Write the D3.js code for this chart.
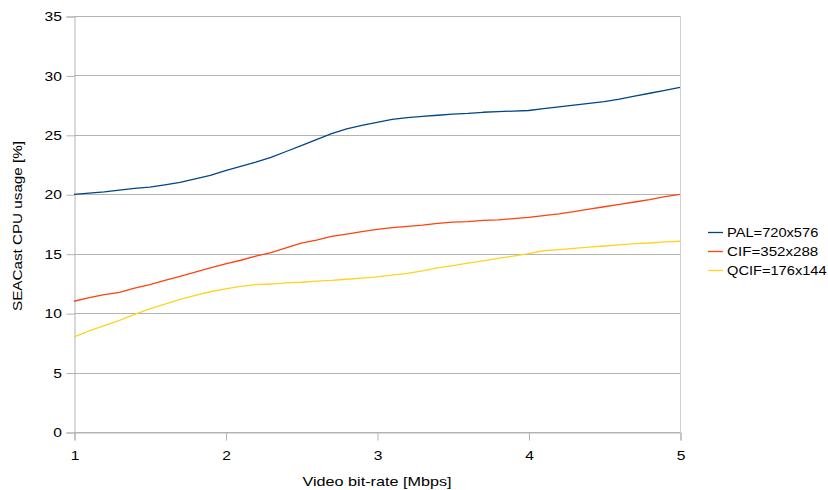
<!DOCTYPE html>
<html>
<head>
<meta charset="utf-8">
<script src="https://cdn.jsdelivr.net/npm/d3@7"></script>
<style>
  html, body { margin: 0; padding: 0; background: #fff; }
  svg text { font-family: "Liberation Sans", Arial, sans-serif; fill: #000; }
</style>
</head>
<body>
<svg id="chart" width="828" height="490"></svg>
<script>
// Video bit-rate sample points [Mbps]
const bitrates = [1.0,1.1,1.2,1.3,1.4,1.5,1.6,1.7,1.8,1.9,2.0,2.1,2.2,2.3,2.4,2.5,2.6,2.7,2.8,2.9,3.0,
                  3.1,3.2,3.3,3.4,3.5,3.6,3.7,3.8,3.9,4.0,4.1,4.2,4.3,4.4,4.5,4.6,4.7,4.8,4.9,5.0];

// SEACast CPU usage [%] per resolution
const palValues = [20.0,20.1,20.2,20.35,20.5,20.6,20.8,21.0,21.3,21.6,22.0,22.35,22.7,23.1,23.6,24.1,24.6,25.1,25.5,25.8,26.05,
                   26.3,26.45,26.55,26.65,26.75,26.8,26.9,26.95,27.0,27.05,27.2,27.35,27.5,27.65,27.8,28.0,28.25,28.5,28.75,29.0];
const cifValues = [11.0,11.3,11.55,11.75,12.1,12.4,12.75,13.1,13.45,13.8,14.15,14.45,14.8,15.1,15.5,15.9,16.15,16.45,16.65,16.85,17.05,
                   17.2,17.3,17.4,17.55,17.65,17.7,17.8,17.85,17.95,18.05,18.2,18.35,18.55,18.75,18.95,19.15,19.35,19.55,19.8,20.0];
const qcifValues = [8.0,8.5,8.95,9.4,9.9,10.35,10.75,11.15,11.5,11.8,12.05,12.25,12.4,12.45,12.55,12.6,12.7,12.75,12.85,12.95,13.05,
                    13.2,13.35,13.55,13.8,14.0,14.2,14.4,14.6,14.8,15.0,15.25,15.35,15.45,15.55,15.65,15.75,15.85,15.9,16.0,16.05];

const seriesNames = ["PAL=720x576", "CIF=352x288", "QCIF=176x144"];
const seriesColors = ["#004586", "#ff420e", "#ffd320"];
const xTicks = [1, 2, 3, 4, 5];
const yTicks = [0, 5, 10, 15, 20, 25, 30, 35];

const series = [palValues, cifValues, qcifValues].map((vals, i) => ({
  name: seriesNames[i],
  color: seriesColors[i],
  points: bitrates.map((b, j) => [b, vals[j]])
}));

const svg = d3.select("#chart");
const plot = { left: 74, right: 680, top: 16, bottom: 432 };

const x = d3.scaleLinear().domain([1, 5]).range([plot.left, plot.right]);
const y = d3.scaleLinear().domain([0, 35]).range([plot.bottom, plot.top]);

const gridColor = "#b3b3b3";
const stretch = "scale(1.2,1)";

// Horizontal gridlines
svg.append("g")
  .selectAll("line")
  .data(yTicks)
  .join("line")
  .attr("x1", plot.left).attr("x2", plot.right)
  .attr("y1", d => Math.round(y(d)) + 0.5).attr("y2", d => Math.round(y(d)) + 0.5)
  .attr("stroke", gridColor).attr("stroke-width", 1);

// Right border of the plot area
svg.append("line")
  .attr("x1", plot.right + 0.5).attr("x2", plot.right + 0.5)
  .attr("y1", plot.top).attr("y2", plot.bottom)
  .attr("stroke", "#d0d0d0").attr("stroke-width", 1);

// Y axis
const yAxis = svg.append("g")
  .attr("transform", `translate(${plot.left + 0.5},0.5)`)
  .call(d3.axisLeft(y).tickValues(yTicks).tickSize(8).tickPadding(4).tickFormat(d3.format("d")));
yAxis.select(".domain").attr("stroke", gridColor);
yAxis.selectAll(".tick line").attr("stroke", gridColor);
yAxis.selectAll(".tick text")
  .attr("font-size", 13)
  .attr("font-family", "Liberation Sans, Arial, sans-serif")
  .attr("transform", stretch)
  .attr("x", -10.5);

// X axis
const xAxis = svg.append("g")
  .attr("transform", `translate(0.5,${plot.bottom + 0.5})`)
  .call(d3.axisBottom(x).tickValues(xTicks).tickSize(8).tickPadding(10).tickFormat(d3.format("d")));
xAxis.select(".domain").attr("stroke", gridColor);
xAxis.selectAll(".tick line").attr("stroke", gridColor);
xAxis.selectAll(".tick text")
  .attr("font-size", 13)
  .attr("font-family", "Liberation Sans, Arial, sans-serif")
  .attr("transform", stretch);

// Data lines
const line = d3.line().x(d => x(d[0])).y(d => y(d[1]));
svg.append("g")
  .selectAll("path")
  .data(series)
  .join("path")
  .attr("d", d => line(d.points))
  .attr("fill", "none")
  .attr("stroke", d => d.color)
  .attr("stroke-width", 1.3)
  .attr("stroke-linejoin", "round");

// Axis titles
svg.append("text")
  .attr("x", 377).attr("y", 486)
  .attr("text-anchor", "middle")
  .attr("font-size", 13)
  .attr("textLength", 149).attr("lengthAdjust", "spacingAndGlyphs")
  .text("Video bit-rate [Mbps]");

svg.append("text")
  .attr("transform", "translate(22,226) rotate(-90)")
  .attr("text-anchor", "middle")
  .attr("font-size", 13)
  .attr("textLength", 170).attr("lengthAdjust", "spacingAndGlyphs")
  .text("SEACast CPU usage [%]");

// Legend
const legend = svg.append("g")
  .selectAll("g")
  .data(series)
  .join("g")
  .attr("transform", (d, i) => `translate(708,${232.5 + i * 19})`);
legend.append("line")
  .attr("x1", 0).attr("x2", 15)
  .attr("stroke", d => d.color).attr("stroke-width", 1.3);
legend.append("text")
  .attr("x", 19).attr("y", 4.5)
  .attr("font-size", 13)
  .attr("textLength", d => d.name.length * 8.3)
  .attr("lengthAdjust", "spacingAndGlyphs")
  .text(d => d.name);
</script>
</body>
</html>
